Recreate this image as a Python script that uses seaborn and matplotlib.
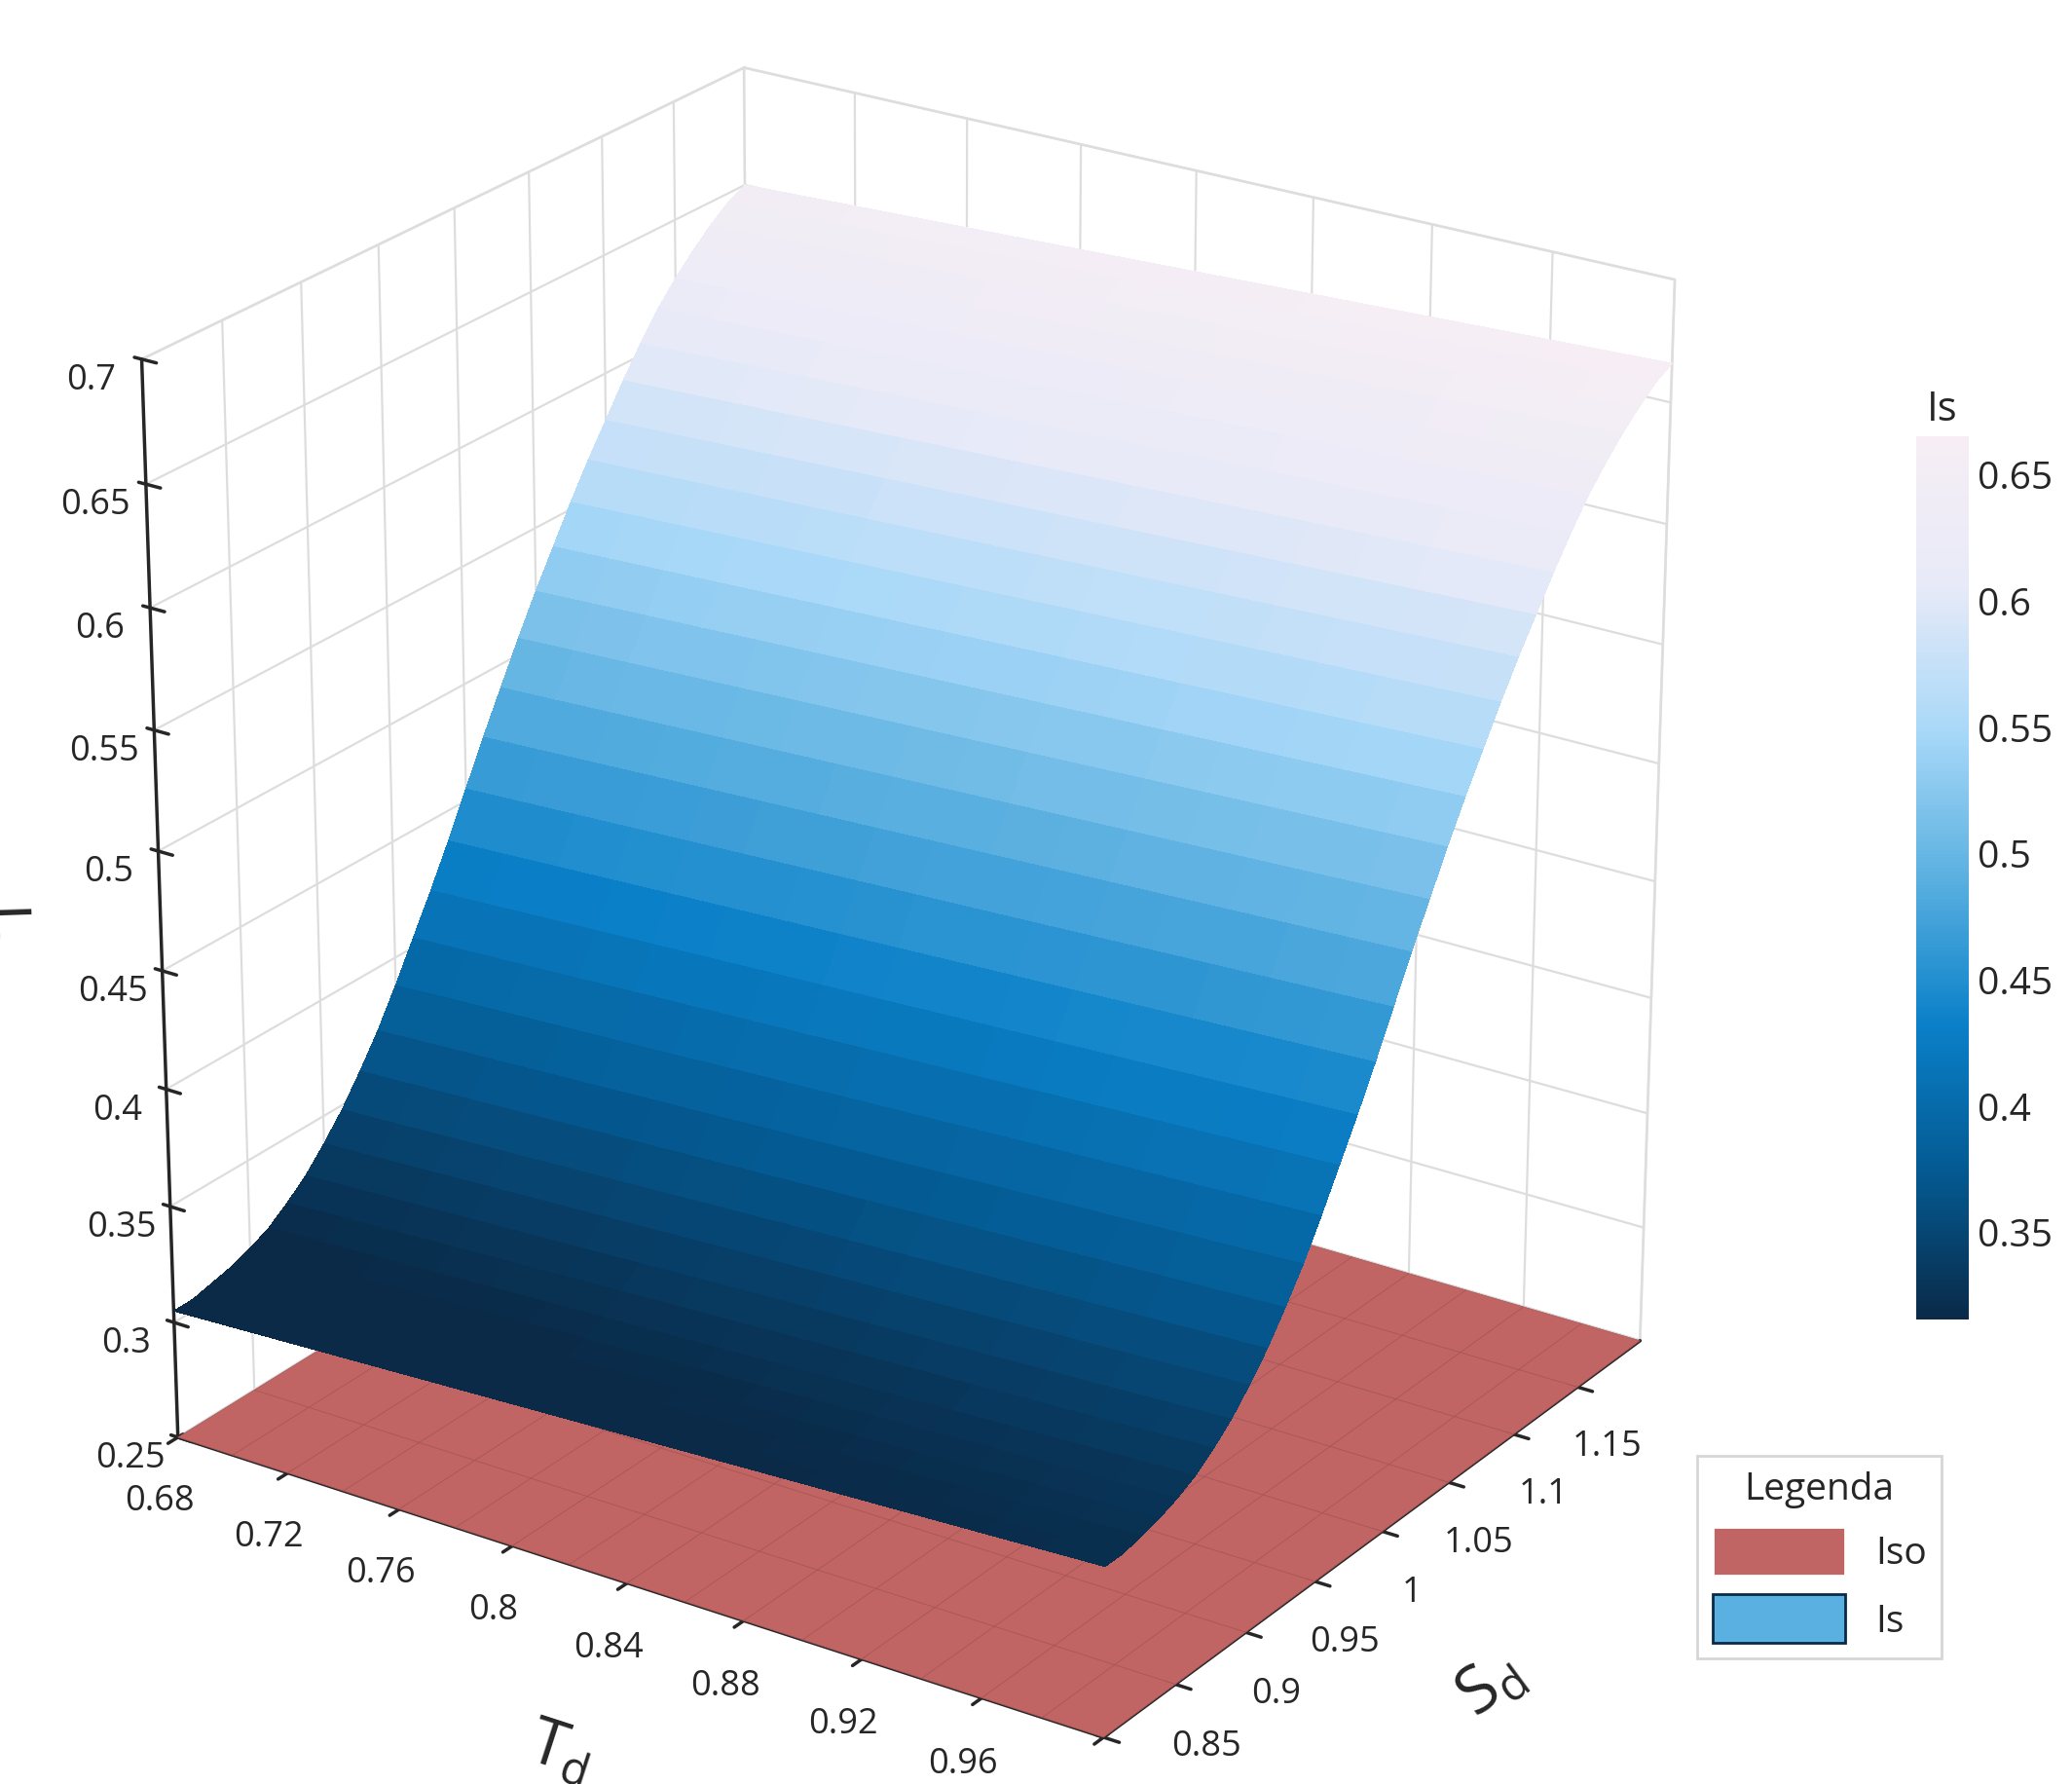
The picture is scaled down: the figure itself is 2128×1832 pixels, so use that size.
import numpy as np
import matplotlib
matplotlib.use("Agg")
import matplotlib.pyplot as plt
import seaborn as sns
from matplotlib.colors import LinearSegmentedColormap
from matplotlib.patches import Patch

sns.set_theme(style="white")
plt.rcParams['font.family'] = ['Open Sans', 'DejaVu Sans']

# Data
td_vals = [0.68, 0.70, 0.72, 0.74, 0.76, 0.78, 0.80, 0.82, 0.84, 0.86, 0.88, 0.90, 0.92, 0.94, 0.96, 0.98, 1.00]
td_offset = [0.000, 0.001, 0.002, 0.003, 0.004, 0.005, 0.006, 0.007, 0.008, 0.009, 0.010, 0.011, 0.012, 0.013, 0.014, 0.015, 0.016]
sd_vals = [0.8000, 0.8125, 0.8250, 0.8375, 0.8500, 0.8625, 0.8750, 0.8875, 0.9000, 0.9125, 0.9250,
           0.9375, 0.9500, 0.9625, 0.9750, 0.9875, 1.0000, 1.0125, 1.0250, 1.0375, 1.0500, 1.0625,
           1.0750, 1.0875, 1.1000, 1.1125, 1.1250, 1.1375, 1.1500, 1.1625, 1.1750, 1.1875, 1.2000]
is_base = [0.305, 0.305, 0.307, 0.309, 0.312, 0.316, 0.322, 0.329, 0.338, 0.348, 0.360, 0.373,
           0.388, 0.404, 0.420, 0.437, 0.455, 0.473, 0.490, 0.507, 0.523, 0.538, 0.553, 0.567,
           0.580, 0.593, 0.605, 0.616, 0.625, 0.633, 0.640, 0.646, 0.650]
iso_level = 0.25

td_ticks = [0.68, 0.72, 0.76, 0.8, 0.84, 0.88, 0.92, 0.96, 1.0]
td_labels = ["0.68", "0.72", "0.76", "0.8", "0.84", "0.88", "0.92", "0.96", "1"]
sd_ticks = [0.8, 0.85, 0.9, 0.95, 1.0, 1.05, 1.1, 1.15]
sd_labels = ["0.8", "0.85", "0.9", "0.95", "1", "1.05", "1.1", "1.15"]
z_ticks = [0.25, 0.3, 0.35, 0.4, 0.45, 0.5, 0.55, 0.6, 0.65, 0.7]
z_labels = ["0.25", "0.3", "0.35", "0.4", "0.45", "0.5", "0.55", "0.6", "0.65", "0.7"]

TD, SD = np.meshgrid(td_vals, sd_vals, indexing="ij")
IS = np.array(td_offset)[:, None] + np.array(is_base)[None, :]

cmap = LinearSegmentedColormap.from_list(
    "is", ["#0a2a48", "#045a92", "#0a80c8", "#5ab0e0", "#a8d8f8", "#e8eaf8", "#f6eef4"])

fig = plt.figure(figsize=(10.64, 9.165), dpi=200)
ax = fig.add_axes([-0.04, -0.02, 0.94, 1.04], projection="3d")
ax.view_init(elev=24, azim=-56)
ax.set_box_aspect((1.1, 1.0, 1.15), zoom=1.0)

ax.plot_surface(TD, SD, np.full_like(IS, iso_level), color="#c06464", shade=False,
                edgecolor="#a85454", linewidth=0.25, alpha=1.0, rcount=17, ccount=9)
surf = ax.plot_surface(TD, SD, IS, cmap=cmap, vmin=0.315, vmax=0.665,
                       linewidth=0, antialiased=False, rcount=100, ccount=100)

ax.set_xlim(0.68, 1.0)
ax.set_ylim(0.8, 1.2)
ax.set_zlim(0.25, 0.7)
ax.set_xticks(td_ticks)
ax.set_xticklabels(td_labels, fontsize=13)
ax.set_yticks(sd_ticks)
ax.set_yticklabels(sd_labels, fontsize=13)
ax.set_zticks(z_ticks)
ax.set_zticklabels(z_labels, fontsize=13)
ax.zaxis._axinfo['juggled'] = (1, 2, 0)
ax.set_xlabel("T$_\\mathregular{d}$", fontsize=24, labelpad=20)
ax.set_ylabel("S$_\\mathregular{d}$", fontsize=24, labelpad=20)
ax.set_zlabel("I$_\\mathregular{s}$", fontsize=24, labelpad=16)
for a in (ax.xaxis, ax.yaxis, ax.zaxis):
    a.pane.set_facecolor("white")
    a.pane.set_edgecolor("#cccccc")
    a._axinfo["grid"]["color"] = "#dddddd"
    a._axinfo["grid"]["linewidth"] = 0.8

cax = fig.add_axes([0.925, 0.26, 0.025, 0.495])
cb = fig.colorbar(surf, cax=cax, ticks=[0.35, 0.4, 0.45, 0.5, 0.55, 0.6, 0.65])
cb.ax.set_yticklabels(["0.35", "0.4", "0.45", "0.5", "0.55", "0.6", "0.65"], fontsize=14)
cb.outline.set_visible(False)
cb.ax.tick_params(length=0)
cb.ax.set_title("Is", fontsize=15)

leg_handles = [Patch(facecolor="#c06464", label="Iso"),
               Patch(facecolor="#5ab0e0", edgecolor="#0a2a48", label="Is")]
fig.legend(handles=leg_handles, title="Legenda", loc="lower left",
           bbox_to_anchor=(0.81, 0.06), fontsize=14, title_fontsize=14,
           fancybox=False, edgecolor="#cccccc", handlelength=3.5, handleheight=1.6)

fig.savefig("out.png", dpi=200)
